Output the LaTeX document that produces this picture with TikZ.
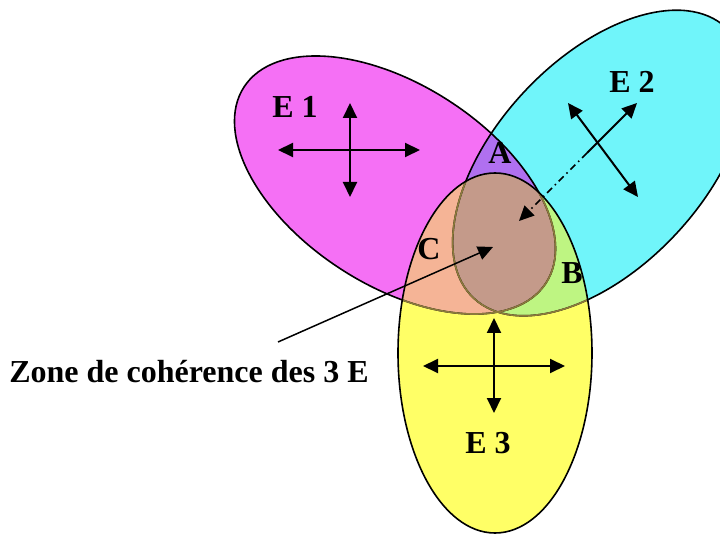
\documentclass[tikz,border=0pt]{standalone}
\usepackage{fontspec}
\setmainfont{Liberation Serif}
\usepackage{xcolor}
\usepackage{tikz}
\usetikzlibrary{arrows.meta}
\definecolor{setPink}{HTML}{F570F5}
\definecolor{setCyan}{HTML}{70F5FA}
\definecolor{setYellow}{HTML}{FFFF66}
\definecolor{mixPinkCyan}{HTML}{B070F0}
\definecolor{mixPinkYellow}{HTML}{F5B496}
\definecolor{mixCyanYellow}{HTML}{BEF582}
\definecolor{mixAll}{HTML}{C49A8A}
\definecolor{edgeOlive}{HTML}{8C7A3C}

\def\ellOne{(395,185) ellipse [x radius=180, y radius=100]}
\def\ellTwo{(600,163) ellipse [x radius=185, y radius=104]}
\def\ellThree{(495,353) ellipse [x radius=97, y radius=180]}

\begin{document}
\begin{tikzpicture}[x=1pt, y=-1pt,
    >={Triangle[length=15pt, width=14pt]},
    tiltOne/.style={rotate around={-33:(395,185)}},
    tiltTwo/.style={rotate around={47:(600,163)}},
    rim/.style={line width=1.6pt},
    axis/.style={line width=2pt, <->},
    tag/.style={font=\fontsize{32}{32}\selectfont\bfseries}]
  \useasboundingbox (0,0) rectangle (720,534);
  \fill[white] (0,0) rectangle (720,534);

  % plain fills
  \fill[setPink, tiltOne] \ellOne;
  \fill[setCyan, tiltTwo] \ellTwo;
  \fill[setYellow] \ellThree;

  % overlaps
  \begin{scope}
    \clip[tiltOne] \ellOne;
    \fill[mixPinkCyan, tiltTwo] \ellTwo;
    \fill[mixPinkYellow] \ellThree;
  \end{scope}
  \begin{scope}
    \clip[tiltTwo] \ellTwo;
    \fill[mixCyanYellow] \ellThree;
    \clip[tiltOne] \ellOne;
    \fill[mixAll] \ellThree;
  \end{scope}

  % outlines
  \draw[rim, tiltOne] \ellOne;
  \draw[rim, tiltTwo] \ellTwo;
  \begin{scope}
    \clip \ellThree;
    \draw[rim, edgeOlive, tiltOne] \ellOne;
    \draw[rim, edgeOlive, tiltTwo] \ellTwo;
  \end{scope}
  \draw[rim] \ellThree;

  % E 1
  \coordinate (e1w) at (278,150);
  \coordinate (e1e) at (420,150);
  \coordinate (e1n) at (350,103);
  \coordinate (e1s) at (350,197);
  \draw[axis] (e1w) -- (e1e);
  \draw[axis] (e1n) -- (e1s);
  \node[tag, anchor=base] (lblE1) at (295,118) {E 1};

  % E 2
  \coordinate (e2nw) at (568,103);
  \coordinate (e2se) at (638,197);
  \coordinate (e2ne) at (637,103);
  \coordinate (e2mid) at (587,153);
  \coordinate (e2sw) at (519,221);
  \draw[axis] (e2nw) -- (e2se);
  \draw[line width=2pt, ->] (e2mid) -- (e2ne);
  \draw[line width=1.5pt, dash pattern=on 7pt off 4pt on 1.5pt off 4pt, ->] (e2mid) -- (e2sw);
  \node[tag, anchor=base] (lblE2) at (632,93) {E 2};

  % E 3
  \coordinate (e3w) at (423,366);
  \coordinate (e3e) at (565,366);
  \coordinate (e3n) at (494,318);
  \coordinate (e3s) at (494,413);
  \draw[axis] (e3w) -- (e3e);
  \draw[axis] (e3n) -- (e3s);
  \node[tag, anchor=base] (lblE3) at (488,453) {E 3};

  % zones
  \node[tag, anchor=base] (lblA) at (500,164) {A};
  \node[tag, anchor=base] (lblB) at (572,284) {B};
  \node[tag, anchor=base] (lblC) at (429,260) {C};

  \node[tag, anchor=base] (lblZone) at (189,382) {Zone de cohérence des 3 E};
  \coordinate (zoneTail) at (278,342);
  \coordinate (zoneTip) at (493,247);
  \draw[line width=1.5pt, ->] (zoneTail) -- (zoneTip);
\end{tikzpicture}
\end{document}
